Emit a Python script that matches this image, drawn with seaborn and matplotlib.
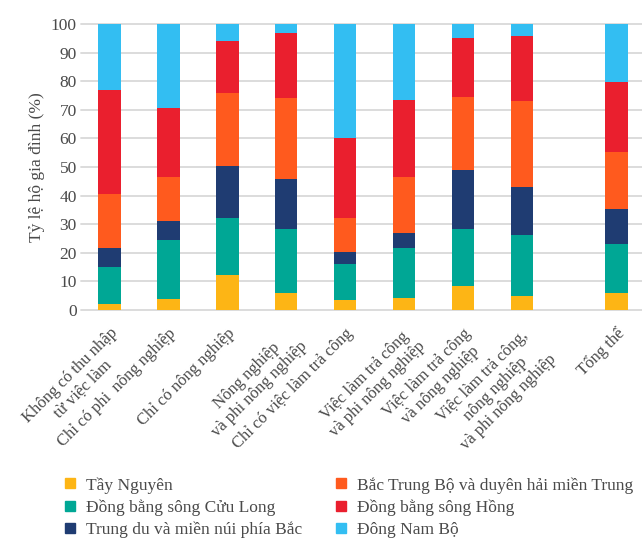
import numpy as np
import pandas as pd
import matplotlib
matplotlib.use("Agg")
import matplotlib.pyplot as plt
from matplotlib.lines import Line2D
import seaborn as sns

# Household groups by income source
categories = [
    "Không có thu nhập\ntừ việc làm",
    "Chỉ có phi  nông nghiệp",
    "Chỉ có nông nghiệp",
    "Nông nghiệp\nvà phi nông nghiệp",
    "Chỉ có việc làm trả công",
    "Việc làm trả công\nvà phi nông nghiệp",
    "Việc làm trả công\nvà nông nghiệp",
    "Việc làm trả công,\nnông nghiệp\nvà phi nông nghiệp",
    "Tổng thể",
]

regions = [
    "Tầy Nguyên",
    "Đồng bằng sông Cửu Long",
    "Trung du và miền núi phía Bắc",
    "Bắc Trung Bộ và duyên hải miền Trung",
    "Đồng bằng sông Hồng",
    "Đông Nam Bộ",
]

# Share of households (%) in each region, per group
tay_nguyen = [2.0, 3.8, 12.2, 5.9, 3.5, 4.3, 8.3, 4.8, 5.9]
cuu_long = [13.2, 20.7, 20.0, 22.4, 12.6, 17.3, 20.0, 21.4, 17.2]
trung_du = [6.4, 6.7, 18.3, 17.6, 4.3, 5.4, 20.8, 16.9, 12.1]
bac_trung_bo = [19.0, 15.3, 25.4, 28.3, 11.8, 19.5, 25.5, 30.0, 20.2]
song_hong = [36.3, 24.2, 18.3, 22.8, 27.8, 26.9, 20.4, 22.7, 24.3]
dong_nam_bo = [23.1, 29.3, 5.8, 3.0, 40.0, 26.6, 5.0, 4.2, 20.3]

colors = ["#FDB515", "#00A795", "#1F3C72", "#FF5A1E", "#EA1F2E", "#33BEF2"]

series = [tay_nguyen, cuu_long, trung_du, bac_trung_bo, song_hong, dong_nam_bo]

# Bar positions: eight groups side by side, the total set apart
positions = [0, 1, 2, 3, 4, 5, 6, 7, 8.6]

rows = []
for reg, vals in zip(regions, series):
    for pos, cat, v in zip(positions, categories, vals):
        rows.append({"pos": pos, "category": cat, "region": reg, "value": v})
df = pd.DataFrame(rows)
df["top"] = df.groupby("pos")["value"].cumsum()

sns.set_theme(style="white")
serif = ["Liberation Serif", "DejaVu Serif"]
plt.rcParams["font.family"] = serif
text_color = "#4a4a4a"

fig = plt.figure(figsize=(6.42, 5.38), dpi=100)
ax = fig.add_axes([81 / 642, 1 - 310 / 538, 1 - 81 / 642, (310 - 24) / 538])

# Stack by drawing cumulative heights from the top layer down
for reg, col in reversed(list(zip(regions, colors))):
    sub = df[df["region"] == reg]
    sns.barplot(data=sub, x="pos", y="top", native_scale=True, color=col,
                width=0.38, ax=ax, linewidth=0, saturation=1, errorbar=None,
                zorder=3)

ax.set_ylim(0, 100)
ax.set_xlim(-0.48, 9.03)
ax.set_yticks(np.arange(0, 101, 10))
ax.set_yticklabels([str(v) for v in range(0, 101, 10)], family=serif,
                   fontsize=12.5, color=text_color)
ax.yaxis.grid(True, color="#d9d9d9", linewidth=1.3)
ax.set_axisbelow(True)
for g in ax.get_ygridlines():
    g.set_clip_on(False)
for s in ax.spines.values():
    s.set_visible(False)

ax.tick_params(axis="y", length=0, pad=3)
ax.set_xticks(positions)
ax.set_xticklabels(categories, rotation=45, ha="right", va="top",
                   rotation_mode="anchor", multialignment="center",
                   fontsize=12, color=text_color, family=serif)
ax.tick_params(axis="x", length=0, pad=11)
ax.set_xlabel("")
ax.set_ylabel("Tỷ lệ hộ gia đình (%)", fontsize=12.5, color=text_color,
              labelpad=4, family=serif)

handles = [Line2D([0], [0], marker="s", linestyle="none", markersize=7,
                  markerfacecolor=c, markeredgecolor=c) for c in colors]
leg_kw = dict(frameon=False, prop={"family": serif, "size": 12.5},
              labelcolor=text_color, handletextpad=0.5, handlelength=0.8,
              labelspacing=0.33, borderpad=0, borderaxespad=0, loc="upper left")
fig.legend(handles[:3], regions[:3],
           bbox_to_anchor=(63 / 642, 1 - 477 / 538), **leg_kw)
fig.legend(handles[3:], regions[3:],
           bbox_to_anchor=(334 / 642, 1 - 477 / 538), **leg_kw)

fig.savefig("out.png", dpi=100)
